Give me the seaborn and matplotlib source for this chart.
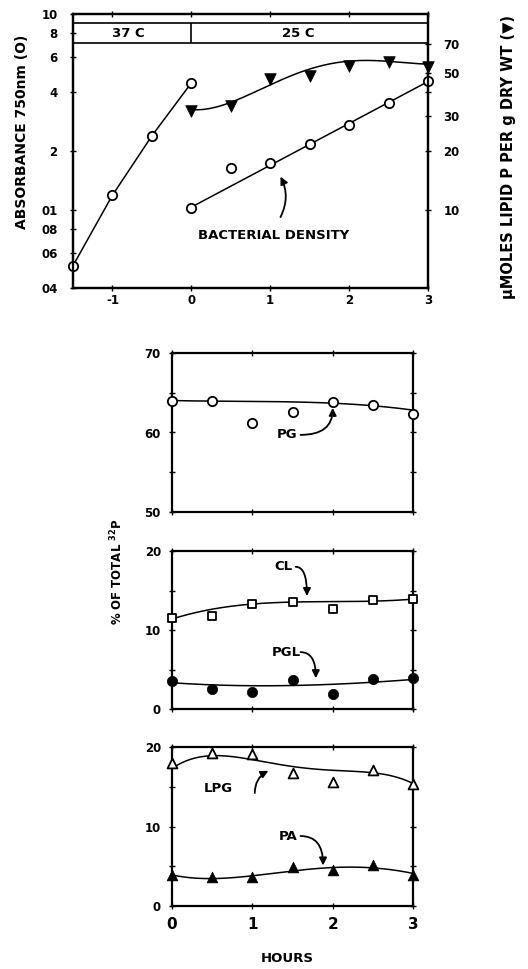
import numpy as np
import pandas as pd
import matplotlib
matplotlib.use("Agg")
import matplotlib.pyplot as plt
from matplotlib.ticker import NullLocator, FixedLocator
import seaborn as sns

sns.set_theme(style="white")
plt.rcParams['font.family'] = ['DejaVu Sans']
plt.rcParams['font.weight'] = 'bold'
plt.rcParams['mathtext.default'] = 'bf'
for k in ['text.color', 'axes.labelcolor', 'xtick.color', 'ytick.color', 'axes.edgecolor']:
    plt.rcParams[k] = 'black'

# ---------------- data ----------------
pre_hours = [-1.5, -1.0, -0.5, 0.0]
pre_abs = [0.052, 0.119, 0.239, 0.445]
hours = [0, 0.5, 1, 1.5, 2, 2.5, 3]
post_abs = [0.102, 0.164, 0.174, 0.217, 0.272, 0.351, 0.455]
post_abs_on_line = [True, False, True, True, True, True, True]
lipid = [32, 34, 46.5, 48, 54, 57, 53.5]
lipid_curve = [32.7, 34.7, 44.8, 51.9, 56.6, 58.2, 55.3]

pg = [64.0, 64.0, 61.2, 62.6, 63.8, 63.5, 62.3]
pg_curve = [64.0, 64.0, 63.9, 63.8, 63.7, 63.4, 62.8]
cl = [11.5, 11.8, 13.3, 13.6, 12.6, 13.8, 13.9]
cl_curve = [11.4, 12.6, 13.3, 13.6, 13.5, 13.7, 13.9]
pgl = [3.5, 2.5, 2.1, 3.7, 1.9, 3.8, 3.9]
pgl_curve = [3.3, 3.1, 2.95, 2.95, 3.05, 3.5, 3.7]
lpg = [18.0, 19.2, 19.1, 16.7, 15.6, 17.1, 15.3]
lpg_curve = [17.3, 18.9, 18.4, 17.6, 17.0, 16.8, 15.4]
pa = [3.9, 3.7, 3.6, 4.9, 4.5, 5.2, 3.9]
pa_curve = [3.9, 3.5, 3.7, 4.5, 4.8, 4.8, 4.1]

abs_ticks = [1.0, 0.8, 0.6, 0.4, 0.2, 0.1, 0.08, 0.06, 0.04]
abs_labels = ["10", "8", "6", "4", "2", "01", "08", "06", "04"]
lipid_ticks = [10, 20, 30, 40, 50, 70]
lipid_labels = ["10", "20", "30", "", "50", "70"]
top_xticks = [-1, 0, 1, 2, 3]
shift_time = 0.0
band = (0.71, 0.90)

W, H = 528, 969
fig = plt.figure(figsize=(W / 100, H / 100), dpi=100)
fig.patch.set_facecolor("white")


def pos(l, r, t, b):
    return [l / W, 1 - b / H, (r - l) / W, (b - t) / H]


def style(ax, fs=8):
    for s in ax.spines.values():
        s.set_color("black")
        s.set_linewidth(1.6)
        s.set_visible(True)
    ax.tick_params(which="both", direction="inout", length=4, width=1.0,
                   colors="black", labelsize=fs)
    ax.set_facecolor("none")


def smooth(x, y, deg=4):
    xs = np.linspace(min(x), max(x), 200)
    return xs, np.polyval(np.polyfit(x, y, deg), xs)


LW = 1.1

# ---------------- top panel ----------------
ax1 = fig.add_axes(pos(73, 428, 14, 288))
ax1.set_yscale("log")
ax1.set_xlim(-1.5, 3)
ax1.set_ylim(0.04, 1.0)
style(ax1, 8.5)
ax1.yaxis.set_major_locator(FixedLocator(abs_ticks))
ax1.yaxis.set_minor_locator(NullLocator())
ax1.set_yticklabels(abs_labels)
ax1.set_xticks(top_xticks)
ax1.set_xticklabels([str(t) for t in top_xticks])
ax1.tick_params(axis="y", pad=9, left=True, right=False)
ax1.tick_params(axis="x", pad=2, top=True, bottom=True)

# temperature band
ax1.axhline(band[0], color="black", lw=1.2)
ax1.axhline(band[1], color="black", lw=1.2)
ax1.vlines(shift_time, band[0], band[1], color="black", lw=1.2)
ax1.text(-0.8, np.sqrt(band[0] * band[1]), "37 C", ha="center", va="center", fontsize=9.5)
ax1.text(1.35, np.sqrt(band[0] * band[1]), "25 C", ha="center", va="center", fontsize=9.5)

sns.lineplot(x=pre_hours, y=pre_abs, ax=ax1, color="black", linewidth=LW,
             estimator=None, sort=False, zorder=2)
hx = np.array(hours)[post_abs_on_line]
hy = np.log10(np.array(post_abs)[post_abs_on_line])
coef = np.polyfit(hx, hy, 1)
xl = np.linspace(0, 3, 50)
sns.lineplot(x=xl, y=10 ** np.polyval(coef, xl), ax=ax1, color="black",
             linewidth=LW, estimator=None, sort=False, zorder=2)
sns.scatterplot(x=pre_hours, y=pre_abs, ax=ax1, marker="o", s=45, color="white",
                edgecolor="black", linewidth=1.3, zorder=4, clip_on=False)
sns.scatterplot(x=hours, y=post_abs, ax=ax1, marker="o", s=45, color="white",
                edgecolor="black", linewidth=1.3, zorder=4, clip_on=False)
ax1.text(1.04, 0.0745, "BACTERIAL DENSITY", ha="center", va="center", fontsize=9.5)
ax1.annotate("", xy=(1.13, 0.148), xytext=(1.13, 0.092),
             arrowprops=dict(arrowstyle="-|>", color="black", lw=1.3,
                             connectionstyle="arc3,rad=0.25", mutation_scale=11,
                             shrinkA=0, shrinkB=0))

ax1r = ax1.twinx()
ax1r.set_yscale("log")
ax1r.set_ylim(4, 100)
style(ax1r, 8.5)
ax1r.yaxis.set_major_locator(FixedLocator(lipid_ticks))
ax1r.yaxis.set_minor_locator(NullLocator())
ax1r.set_yticklabels(lipid_labels)
ax1r.tick_params(axis="y", pad=9, right=True, left=False)
xs, ys = smooth(hours, np.log10(lipid_curve), 4)
sns.lineplot(x=xs, y=10 ** ys, ax=ax1r, color="black", linewidth=LW,
             estimator=None, sort=False, zorder=2)
sns.scatterplot(x=hours, y=lipid, ax=ax1r, marker="v", s=70, color="black",
                edgecolor="black", linewidth=0.5, zorder=4, clip_on=False)

fig.text(22 / W, 1 - 132 / H, "ABSORBANCE 750nm (O)", rotation=90,
         ha="center", va="center", fontsize=10)
fig.text(508 / W, 1 - 157 / H, "µMOLES LIPID P PER g DRY WT (▼)", rotation=90,
         ha="center", va="center", fontsize=10.5)

# ---------------- lower panels ----------------
def lower(t, b, ylim):
    ax = fig.add_axes(pos(172, 413, t, b))
    ax.set_xlim(0, 3)
    ax.set_ylim(*ylim)
    style(ax, 8.5)
    ax.set_xticks([0, 1, 2, 3])
    ax.yaxis.set_major_locator(FixedLocator(np.arange(ylim[0], ylim[1] + 0.1, 10)))
    ax.yaxis.set_minor_locator(FixedLocator(np.arange(ylim[0], ylim[1] + 0.1, 5)))
    ax.tick_params(which="both", top=True, right=True, bottom=True, left=True)
    ax.tick_params(axis="y", pad=6)
    ax.tick_params(axis="x", pad=6, labelsize=11)
    ax.tick_params(which="minor", length=4, width=1.0)
    return ax


def curve(ax, yc, deg=4):
    xs, ys = smooth(hours, yc, deg)
    sns.lineplot(x=xs, y=ys, ax=ax, color="black", linewidth=LW,
                 estimator=None, sort=False, zorder=2)


def label_arrow(ax, text, txy, tail, head, cs):
    ax.text(txy[0], txy[1], text, ha="center", va="center", fontsize=9.5)
    ax.annotate("", xy=head, xytext=tail,
                arrowprops=dict(arrowstyle="-|>", color="black", lw=1.3,
                                connectionstyle=cs, mutation_scale=11,
                                shrinkA=0, shrinkB=0))


ax2 = lower(353, 512, (50, 70))
ax2.set_xticklabels([])
curve(ax2, pg_curve, 3)
sns.scatterplot(x=hours, y=pg, ax=ax2, marker="o", s=45, color="white",
                edgecolor="black", linewidth=1.3, zorder=4, clip_on=False)
label_arrow(ax2, "PG", (1.43, 59.7), (1.6, 59.7), (2.0, 63.1),
            "angle3,angleA=0,angleB=90")

ax3 = lower(551, 709, (0, 20))
ax3.set_xticklabels([])
curve(ax3, cl_curve, 3)
curve(ax3, pgl_curve, 3)
sns.scatterplot(x=hours, y=cl, ax=ax3, marker="s", s=35, color="white",
                edgecolor="black", linewidth=1.3, zorder=4, clip_on=False)
sns.scatterplot(x=hours, y=pgl, ax=ax3, marker="o", s=55, color="black",
                edgecolor="black", linewidth=0.5, zorder=4, clip_on=False)
label_arrow(ax3, "CL", (1.385, 18.0), (1.54, 18.0), (1.68, 14.3),
            "angle3,angleA=0,angleB=90")
label_arrow(ax3, "PGL", (1.42, 7.2), (1.6, 7.2), (1.79, 3.9),
            "angle3,angleA=0,angleB=90")

ax4 = lower(747, 906, (0, 20))
ax4.set_xticklabels(["0", "1", "2", "3"])
curve(ax4, lpg_curve, 4)
curve(ax4, pa_curve, 4)
sns.scatterplot(x=hours, y=lpg, ax=ax4, marker="^", s=50, color="white",
                edgecolor="black", linewidth=1.3, zorder=4, clip_on=False)
sns.scatterplot(x=hours, y=pa, ax=ax4, marker="^", s=60, color="black",
                edgecolor="black", linewidth=0.5, zorder=4, clip_on=False)
label_arrow(ax4, "LPG", (0.58, 14.8), (1.03, 14.2), (1.2, 17.0),
            "arc3,rad=-0.3")
label_arrow(ax4, "PA", (1.45, 8.7), (1.6, 8.8), (1.88, 5.1),
            "angle3,angleA=0,angleB=90")

fig.text(117 / W, 1 - 572 / H, r"% OF TOTAL $^{32}$P", rotation=90,
         ha="center", va="center", fontsize=8.5)
fig.text(287 / W, 1 - 959 / H, "HOURS", ha="center", va="center", fontsize=9.5)

fig.savefig("out.png", dpi=100, facecolor="white")
